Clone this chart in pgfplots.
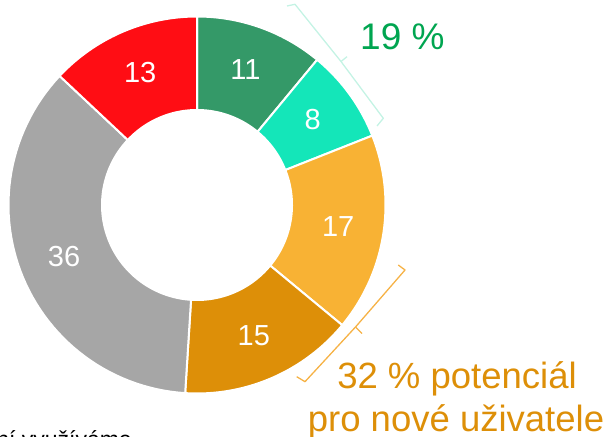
\documentclass[border=0pt]{standalone}
\usepackage{pgfplots}
\usepackage{pgfplotstable}
\pgfplotsset{compat=1.18}
\usepackage{fontspec}
\setmainfont{Liberation Sans}
\definecolor{segA}{RGB}{52,153,104}
\definecolor{segB}{RGB}{20,230,185}
\definecolor{segC}{RGB}{248,178,52}
\definecolor{segD}{RGB}{221,143,8}
\definecolor{segE}{RGB}{166,166,166}
\definecolor{segF}{RGB}{255,13,20}
\definecolor{txtgreen}{RGB}{0,165,80}
\definecolor{txtorange}{RGB}{221,143,8}
\definecolor{brmint}{RGB}{196,243,228}
\definecolor{brorange}{RGB}{246,178,70}

\pgfplotstableread{
val col
11 segA
8 segB
17 segC
15 segD
36 segE
13 segF
}\piedata

\begin{document}
\begin{tikzpicture}
\useasboundingbox (0,0) rectangle (612pt,436pt);
\begin{axis}[
  scale only axis, width=612pt, height=436pt,
  xmin=0, xmax=612, ymin=0, ymax=436,
  hide axis, clip=false, anchor=south west, at={(0,0)}]
\pgfplotstablegetrowsof{\piedata}
\pgfmathtruncatemacro\nrows{\pgfplotsretval-1}
\def\cum{0}
\pgfplotsforeachungrouped \i in {0,...,\nrows}{%
  \pgfplotstablegetelem{\i}{val}\of\piedata \edef\segval{\pgfplotsretval}%
  \pgfplotstablegetelem{\i}{col}\of\piedata \edef\segcol{\pgfplotsretval}%
  \pgfmathsetmacro\aa{90-3.6*\cum}%
  \pgfmathsetmacro\ab{90-3.6*(\cum+\segval)}%
  \pgfmathsetmacro\am{(\aa+\ab)/2}%
  \pgfmathsetmacro\lx{197+143*cos(\am)}%
  \pgfmathsetmacro\ly{232+143*sin(\am)}%
  \edef\temp{%
    \noexpand\fill[\segcol, draw=white, line width=2pt, line join=round]
      plot[domain=\aa:\ab, samples=60] ({197+188.5*cos(\noexpand\x)},{231+188.5*sin(\noexpand\x)})
      -- plot[domain=\ab:\aa, samples=60] ({197+95*cos(\noexpand\x)},{231+95*sin(\noexpand\x)}) -- cycle;
    \noexpand\node[white, font=\noexpand\fontsize{29}{31}\noexpand\selectfont] at (axis cs:\lx,\ly) {\segval};
  }\temp
  \pgfmathsetmacro\cum{\cum+\segval}%
}
% brackets
\draw[brmint, line width=1.3pt, line join=round]
  (axis cs:287,430) -- (axis cs:295,431.7) -- (axis cs:341,374.5) -- (axis cs:383.3,317.7) -- (axis cs:377,310);
\draw[brmint, line width=1.3pt] (axis cs:341,374.5) -- (axis cs:347,379.3);
\draw[brorange, line width=1.3pt, line join=round]
  (axis cs:398.3,171) -- (axis cs:405,166) -- (axis cs:355.5,109) -- (axis cs:305,54.3) -- (axis cs:296.7,59.3);
\draw[brorange, line width=1.3pt] (axis cs:355.5,109) -- (axis cs:362,102.5);
% texts
\node[txtgreen, anchor=base west, inner sep=0pt, font=\fontsize{37}{40}\selectfont] at (axis cs:360,386) {19 \%};
\node[txtorange, anchor=base, inner sep=0pt, font=\fontsize{36.5}{40}\selectfont] at (axis cs:457,48) {32 \% potenciál};
\node[txtorange, anchor=base, inner sep=0pt, font=\fontsize{36.5}{40}\selectfont] at (axis cs:456,5) {pro nové uživatele};
\node[black, anchor=base east, inner sep=0pt, font=\fontsize{23}{26}\selectfont] at (axis cs:132,-11) {ní využíváme};
\end{axis}
\end{tikzpicture}
\end{document}
